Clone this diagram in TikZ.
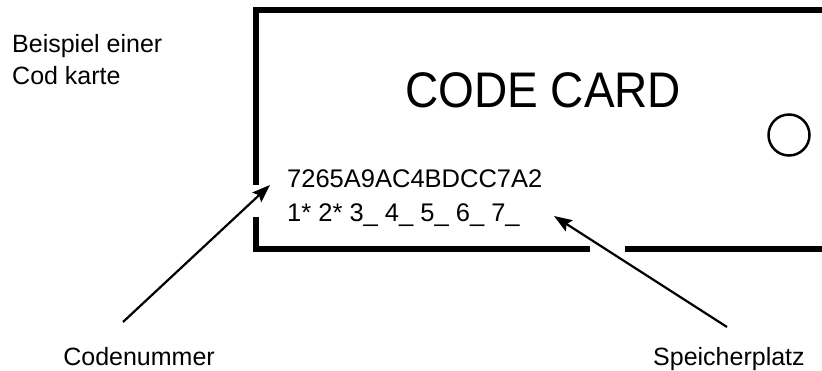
\documentclass[tikz,border=0pt]{standalone}
\usepackage{fontspec}
\setmainfont{Liberation Sans}
\newfontfamily\narrowsans{Liberation Sans}[FakeStretch=0.92]
\usetikzlibrary{arrows.meta}
\begin{document}
\begin{tikzpicture}[x=1pt,y=-1pt,
  card/.style={line width=5.5pt},
  arr/.style={line width=2.2pt,-{Stealth[length=18pt,width=13pt,inset=3pt]}},
  lbl/.style={inner sep=0pt,font=\fontsize{25}{30}\selectfont},
  codetxt/.style={inner sep=0pt,font=\fontsize{25.5}{30}\selectfont}]
\useasboundingbox (0,0) rectangle (822,371);
% card outline
\draw[card] (822,10) -| (256,185);
\draw[card] (256,217) |- (590,249);
\draw[card] (625,249) -- (822,249);
% title
\node[inner sep=0pt,anchor=base west,font=\narrowsans\fontsize{50}{54}\selectfont] (title) at (405,108) {CODE CARD};
% hole
\node[circle,draw,line width=2.5pt,minimum size=41pt,inner sep=0pt] (hole) at (789,135) {};
% code lines
\node[codetxt,anchor=base west] (code) at (287,188) {7265A9AC4BDCC7A2};
\node[codetxt,anchor=base west] (slots) at (287,222) {1* 2* 3\_ 4\_ 5\_ 6\_ 7\_};
% left caption
\node[lbl,anchor=base west] (cap1) at (12,53) {Beispiel einer};
\node[lbl,anchor=base west] (cap2) at (12,85) {Cod karte};
% bottom labels
\node[lbl,anchor=base east] (lcode) at (215,365) {Codenummer};
\node[lbl,anchor=base west] (lslot) at (653,365) {Speicherplatz};
% arrows
\coordinate (t1) at (123,322);
\coordinate (h1) at (270,185);
\coordinate (t2) at (727,327);
\coordinate (h2) at (554,216);
\draw[arr] (t1) -- (h1);
\draw[arr] (t2) -- (h2);
\end{tikzpicture}
\end{document}
